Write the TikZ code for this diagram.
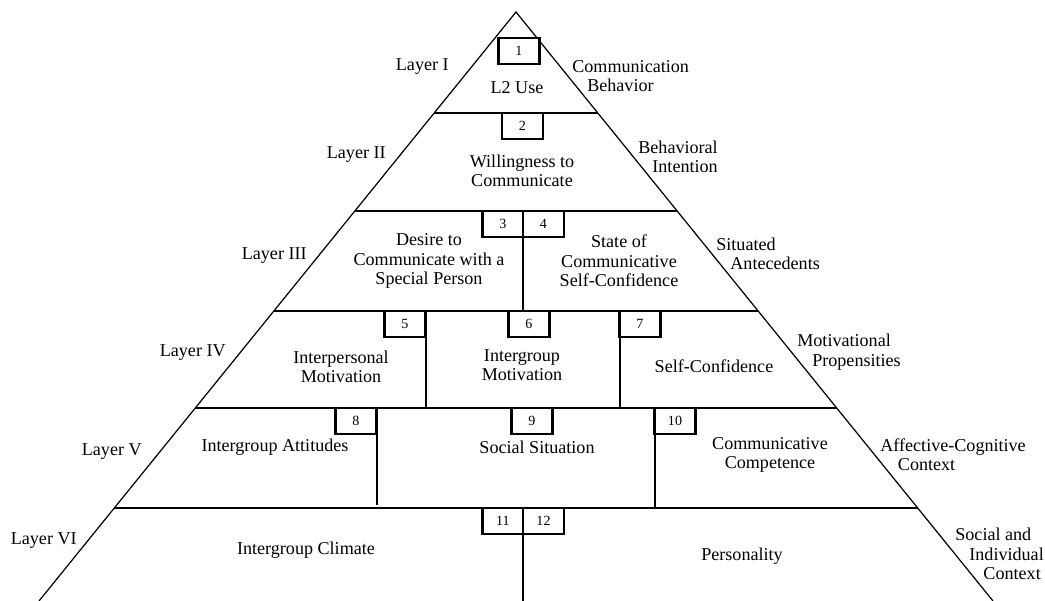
\documentclass[tikz,border=0pt]{standalone}
\usepackage{fontspec}
\setmainfont{Liberation Serif}

\tikzset{
  side/.style={line width=0.7pt, line join=miter},
  layerline/.style={line width=1.3pt},
  divider/.style={line width=1.3pt},
  numbox/.style={draw, line width=1.5pt, fill=white, minimum width=0.82cm, minimum height=0.52cm, inner sep=0pt, font=\fontsize{8}{9}\selectfont},
  boxtext/.style={align=center, inner sep=0pt},
  layerlabel/.style={anchor=east, inner sep=0pt},
  sidelabel/.style={anchor=west, align=left, inner sep=0pt}
}

\begin{document}
\begin{tikzpicture}[x=0.02cm, y=-0.02cm, font=\fontsize{10.3}{11}\selectfont]

   \path[use as bounding box, fill=white] (0,0) rectangle (1045,601);

   % pyramid
   \draw[side] (39,601) -- (516,12) -- (993,601);
   \foreach \y in {113,211,311,408,508}
     \draw[layerline] ({516-0.81*(\y-12)},\y) -- ({516+0.81*(\y-12)},\y);

   \draw[divider] (523,211) -- (523,311);
   \draw[divider] (426,311) -- (426,408);
   \draw[divider] (620,311) -- (620,408);
   \draw[divider] (377,408) -- (377,505);
   \draw[divider] (655,408) -- (655,508);
   \draw[divider] (523,508) -- (523,601);

%Number boxes
   \node[numbox] at (519, 51)    (n1)  {1};
   \node[numbox] at (522.5, 126) (n2)  {2};
   \node[numbox] at (503, 224)   (n3)  {3};
   \node[numbox] at (543.5, 224) (n4)  {4};
   \node[numbox] at (405, 324)   (n5)  {5};
   \node[numbox] at (529, 324)   (n6)  {6};
   \node[numbox] at (640, 324)   (n7)  {7};
   \node[numbox] at (356, 421)   (n8)  {8};
   \node[numbox] at (532, 421)   (n9)  {9};
   \node[numbox] at (675, 421)   (n10) {10};
   \node[numbox] at (503, 521)   (n11) {11};
   \node[numbox] at (543.5, 521) (n12) {12};

%Box texts
   \node[boxtext] at (517, 88)   (use)   {L2 Use};
   \node[boxtext] at (522, 171)  (wtc)   {Willingness to\\Communicate};
   \node[boxtext] at (429, 261)  (desire) {Desire to\\Communicate with a\\Special Person};
   \node[boxtext] at (619, 261)  (state) {State of\\Communicative\\Self-Confidence};
   \node[boxtext] at (341, 367)  (interp) {Interpersonal\\Motivation};
   \node[boxtext] at (522, 365)  (intergr) {Intergroup\\Motivation};
   \node[boxtext] at (714, 366)  (selfc) {Self-Confidence};
   \node[boxtext] at (275, 447)  (att)   {Intergroup Attitudes};
   \node[boxtext] at (537, 447)  (sit)   {Social Situation};
   \node[boxtext] at (770, 455)  (comp)  {Communicative\\Competence};
   \node[boxtext] at (306, 550)  (clim)  {Intergroup Climate};
   \node[boxtext] at (742, 556)  (pers)  {Personality};

%Layer labels
   \node[layerlabel] at (449, 67)  (l1) {Layer I};
   \node[layerlabel] at (386, 155) (l2) {Layer II};
   \node[layerlabel] at (307, 256) (l3) {Layer III};
   \node[layerlabel] at (226, 353) (l4) {Layer IV};
   \node[layerlabel] at (142, 452) (l5) {Layer V};
   \node[layerlabel] at (77, 541)  (l6) {Layer VI};

   \node[sidelabel] at (572, 76)  (s1) {Communication\\\hspace*{8.5pt}Behavior};
   \node[sidelabel] at (638, 157) (s2) {Behavioral\\\hspace*{8pt}Intention};
   \node[sidelabel] at (716, 254) (s3) {Situated\\\hspace*{8pt}Antecedents};
   \node[sidelabel] at (797, 352) (s4) {Motivational\\\hspace*{8.5pt}Propensities};
   \node[sidelabel] at (880, 455) (s5) {Affective-Cognitive\\\hspace*{10pt}Context};
   \node[sidelabel] at (955, 554) (s6) {Social and\\\hspace*{8pt}Individual\\\hspace*{16pt}Context};

\end{tikzpicture}
\end{document}
